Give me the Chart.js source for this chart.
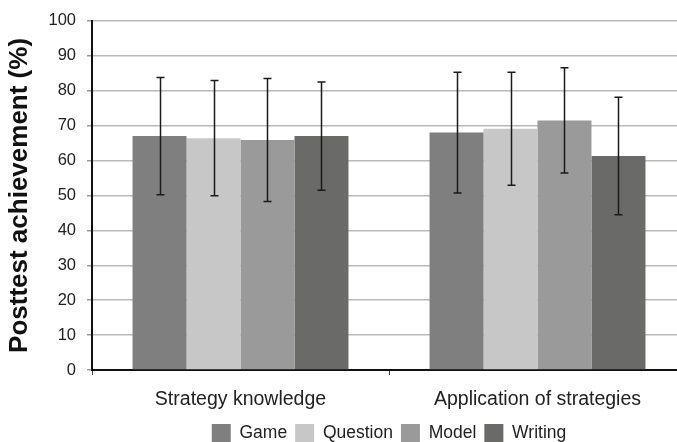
<!DOCTYPE html>
<html>
<head>
<meta charset="utf-8">
<script src="https://cdn.jsdelivr.net/npm/chart.js@4"></script>
<style>
  html, body { margin: 0; padding: 0; background: #fff; overflow: hidden; }
  #wrap { position: relative; width: 686px; height: 442px; }
</style>
</head>
<body>
<div id="wrap"><canvas id="chart"></canvas></div>
<script>
// Posttest achievement by condition: means and standard deviations (%)
const categories = ['Strategy knowledge', 'Application of strategies'];
const seriesNames = ['Game', 'Question', 'Model', 'Writing'];
const gameMeans = [67.0, 68.0];
const questionMeans = [66.4, 69.1];
const modelMeans = [65.9, 71.5];
const writingMeans = [67.0, 61.3];
const gameSD = [16.8, 17.3];
const questionSD = [16.5, 16.2];
const modelSD = [17.6, 15.1];
const writingSD = [15.5, 16.8];
const yTicks = [0, 10, 20, 30, 40, 50, 60, 70, 80, 90, 100];

const colors = ['#7f7f7f', '#c6c7c6', '#999a99', '#6a6a68'];
const means = [gameMeans, questionMeans, modelMeans, writingMeans];
const sds = [gameSD, questionSD, modelSD, writingSD];

const FONT = "'Liberation Sans', Arial, Helvetica, sans-serif";

// Whiskers of ±1 SD drawn on each bar through the y scale
const errorBars = {
  id: 'errorBars',
  afterDatasetsDraw(chart) {
    const ctx = chart.ctx;
    const y = chart.scales.y;
    ctx.save();
    ctx.strokeStyle = '#1a1a1a';
    ctx.lineWidth = 1.5;
    chart.data.datasets.forEach((ds, i) => {
      const meta = chart.getDatasetMeta(i);
      meta.data.forEach((bar, j) => {
        const m = ds.data[j], sd = ds.sd[j];
        const x = Math.round(bar.x) + 0.5;
        const yt = y.getPixelForValue(m + sd);
        const yb = y.getPixelForValue(m - sd);
        const cap = 4;
        ctx.beginPath();
        ctx.moveTo(x, yt); ctx.lineTo(x, yb);
        ctx.moveTo(x - cap, yt); ctx.lineTo(x + cap, yt);
        ctx.moveTo(x - cap, yb); ctx.lineTo(x + cap, yb);
        ctx.stroke();
      });
    });
    ctx.restore();
  }
};

new Chart(document.getElementById('chart'), {
  type: 'bar',
  data: {
    labels: categories,
    datasets: seriesNames.map((name, i) => ({
      label: name,
      data: means[i],
      sd: sds[i],
      backgroundColor: colors[i],
      borderWidth: 0,
      categoryPercentage: 0.727,
      barPercentage: 1.0
    }))
  },
  options: {
    responsive: true,
    maintainAspectRatio: false,
    animation: false,
    devicePixelRatio: 1,
    layout: { padding: { top: 18, right: 0, left: 0, bottom: -11 } },
    plugins: {
      tooltip: { enabled: false },
      legend: {
        position: 'bottom',
        fullSize: false,
        labels: {
          boxWidth: 19,
          boxHeight: 19,
          padding: 8,
          color: '#222',
          font: { family: FONT, size: 17.5 }
        }
      }
    },
    scales: {
      x: {
        border: { display: true, color: '#111', width: 2 },
        grid: { drawOnChartArea: false, drawTicks: true, tickLength: 5, color: '#444', lineWidth: 1 },
        ticks: { color: '#222', font: { family: FONT, size: 19.5 }, padding: 13 },
        afterFit(s) { s.height = 46; }
      },
      y: {
        min: 0, max: 100,
        afterBuildTicks(s) { s.ticks = yTicks.map(v => ({ value: v })); },
        border: { display: true, color: '#111', width: 2 },
        grid: { color: '#bababa', lineWidth: 1.5, tickLength: 5, tickColor: '#9a9a9a' },
        ticks: { color: '#222', font: { family: FONT, size: 16.5 }, padding: 11 },
        title: {
          display: true,
          text: 'Posttest achievement (%)',
          color: '#111',
          font: { family: FONT, size: 26, weight: 'bold' },
          padding: { top: 4, bottom: 0 }
        },
        afterFit(s) { s.width = 92; }
      }
    }
  },
  plugins: [errorBars]
});
</script>
</body>
</html>
